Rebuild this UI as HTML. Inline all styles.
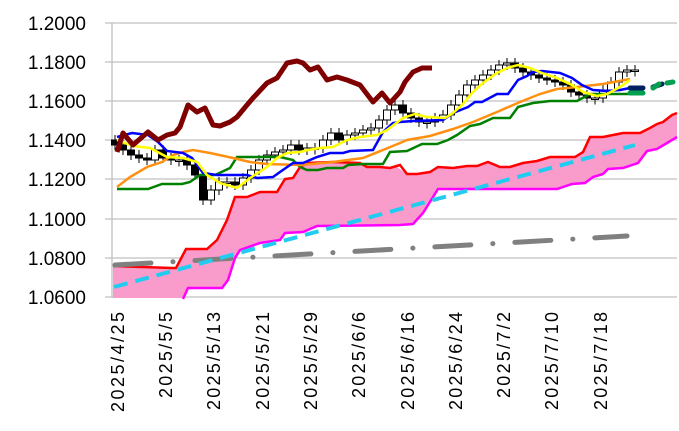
<!DOCTYPE html>
<html><head><meta charset="utf-8"><style>
html,body{margin:0;padding:0;background:#fff;}
svg{display:block;}
text{font-family:"Liberation Sans","Noto Sans CJK JP",sans-serif;fill:#000;}
</style></head><body>
<svg id="s" width="679" height="431" viewBox="0 0 679 431" xmlns="http://www.w3.org/2000/svg">
<g stroke="#c0c0c0" stroke-width="1.3">
<line x1="105" y1="23" x2="677" y2="23"/><line x1="105" y1="62" x2="677" y2="62"/>
<line x1="105" y1="101" x2="677" y2="101"/><line x1="105" y1="140" x2="677" y2="140"/>
<line x1="105" y1="179" x2="677" y2="179"/><line x1="105" y1="219" x2="677" y2="219"/>
<line x1="105" y1="258" x2="677" y2="258"/><line x1="105" y1="297" x2="677" y2="297"/>
<line x1="112" y1="23" x2="112" y2="297"/>
</g>
<g font-size="19" text-anchor="end">
<text x="86" y="30">1.2000</text><text x="86" y="69">1.1800</text><text x="86" y="108">1.1600</text>
<text x="86" y="147">1.1400</text><text x="86" y="186">1.1200</text><text x="86" y="226">1.1000</text>
<text x="86" y="265">1.0800</text><text x="86" y="304">1.0600</text>
</g>
<g font-size="18" text-anchor="end">
<text transform="translate(124,312) rotate(-90)" textLength="100">2025/4/25</text>
<text transform="translate(172,312) rotate(-90)" textLength="86">2025/5/5</text>
<text transform="translate(220,312) rotate(-90)" textLength="98">2025/5/13</text>
<text transform="translate(269,312) rotate(-90)" textLength="98">2025/5/21</text>
<text transform="translate(317,312) rotate(-90)" textLength="98">2025/5/29</text>
<text transform="translate(365,312) rotate(-90)" textLength="86">2025/6/6</text>
<text transform="translate(414,312) rotate(-90)" textLength="98">2025/6/16</text>
<text transform="translate(462,312) rotate(-90)" textLength="98">2025/6/24</text>
<text transform="translate(510,312) rotate(-90)" textLength="86">2025/7/2</text>
<text transform="translate(558,312) rotate(-90)" textLength="98">2025/7/10</text>
<text transform="translate(607,312) rotate(-90)" textLength="98">2025/7/18</text>
</g>
<!-- cloud -->
<polygon fill="#f99ccb" points="113,266 172,268 176,268 186,249 207,249 217,240 227,220 235,197 247,197 260,192 277,192 285,179 293,178 300,167 307,163 333,162 360,163 367,167 380,167 390,168 400,165 397,167 407,174 417,174 430,172 438,167 453,168 467,166 477,166 488,162 500,167 510,167 523,163 537,161 550,157 575,157 583,152 590,137 603,137 623,133 640,133 650,128 657,124 663,122 672,115 677,113 677,137 667,143 657,149 647,151 638,163 623,168 608,169 603,174 593,177 585,183 572,184 557,189 438,189 423,213 413,224 390,225 317,226 303,232 285,233 280,240 260,243 240,250 235,258 228,280 222,288 188,288 183,298 113,298"/>
<polyline fill="none" stroke="#ff0000" stroke-width="2.5" points="113,266 172,268 176,268 186,249 207,249 217,240 227,220 235,197 247,197 260,192 277,192 285,179 293,178 300,167 307,163 333,162 360,163 367,167 380,167 390,168 400,165 407,174 417,174 430,172 438,167 453,168 467,166 477,166 488,162 500,167 510,167 523,163 537,161 550,157 575,157 583,152 590,137 603,137 623,133 640,133 650,128 657,124 663,122 672,115 677,113"/>
<polyline fill="none" stroke="#ff00ff" stroke-width="2.5" points="183,299 188,288 222,288 228,280 235,258 240,250 260,243 280,240 285,233 303,232 317,226 400,225 413,224 423,213 438,189 557,189 572,184 585,183 593,177 603,174 608,169 623,168 638,163 647,151 657,149 667,143 677,137"/>
<line x1="115" y1="265" x2="627" y2="236" stroke="#808080" stroke-width="5" stroke-linecap="round" stroke-dasharray="36,22,0.1,22"/>
<line x1="114" y1="287" x2="635" y2="145" stroke="#22ccf0" stroke-width="4" stroke-dasharray="14,8"/>
<g id="c"></g>
<polyline fill="none" stroke="#008000" stroke-width="2.5" points="117,189 148,189 162,184 182,184 190,182 200,175 215,175 230,168 237,157 280,157 293,160 300,167 307,170 318,170 327,168 343,168 348,165 363,164 383,164 390,152 407,151 422,144 437,144 448,140 457,135 470,126 480,124 493,118 510,118 518,107 533,103 550,101 577,101 590,94 630,94"/>
<polyline fill="none" stroke="#ff9010" stroke-width="2.5" points="117,187 130,177 147,167 162,162 173,155 183,152 193,150 210,153 233,158 250,162 267,164 300,165 333,162 363,158 383,150 400,143 407,140 430,136 453,129 473,122 497,112 520,102 540,94 557,89 577,87 603,84 630,79"/>
<polyline fill="none" stroke="#0000ff" stroke-width="2.5" points="117,137 132,133 148,135 158,142 167,151 183,153 192,158 203,173 217,175 247,175 257,178 273,177 280,172 293,163 303,163 317,157 330,153 343,153 350,151 373,150 383,132 393,123 400,122 413,121 443,120 453,113 468,107 475,102 482,102 497,94 508,94 518,80 527,76 533,72 542,71 560,73 572,78 582,85 593,90 607,91 620,90 630,88"/>
<polyline fill="none" stroke="#ffff00" stroke-width="2.5" points="117,140 133,146 150,148 167,157 183,158 197,162 207,175 220,183 237,188 250,178 267,167 277,158 287,153 300,152 308,150 320,148 333,147 347,140 360,137 377,135 387,130 403,118 415,114 427,117 445,118 453,113 462,105 472,93 483,83 497,73 507,68 518,65 530,68 542,73 557,78 572,85 583,92 597,96 607,94 620,87 630,80"/>
<polyline fill="none" stroke="#7f0000" stroke-width="5" stroke-linejoin="round" points="117,152 123,133 133,145 148,132 158,140 167,135 175,133 180,127 188,105 197,112 205,108 213,125 220,126 230,122 237,117 247,105 253,98 267,83 277,78 287,63 297,61 303,63 310,70 318,67 327,80 337,77 347,80 360,85 373,102 382,93 390,103 400,92 405,82 413,72 422,68 432,68"/>
<line x1="630" y1="88" x2="643" y2="88" stroke="#002060" stroke-width="5" stroke-linecap="round"/>
<line x1="653" y1="87" x2="662" y2="84" stroke="#002060" stroke-width="5" stroke-linecap="round"/>
<line x1="630" y1="93" x2="643" y2="93" stroke="#00a050" stroke-width="5" stroke-linecap="round"/>
<line x1="653" y1="88" x2="659" y2="84" stroke="#00a050" stroke-width="5" stroke-linecap="round"/>
<line x1="667" y1="83" x2="673" y2="82" stroke="#00a050" stroke-width="5" stroke-linecap="round"/>
</svg>
<script>
var cl=[145,150,155,158,160,150,158,160,160,165,175,200,190,182,182,185,178,170,160,155,152,150,145,150,148,148,140,133,140,135,133,130,128,120,110,105,113,118,122,122,118,115,105,95,85,80,75,70,65,63,68,72,75,78,80,82,85,92,95,98,98,90,82,72,70,70];
var g=document.getElementById('c'),h='',o=140;
for(var i=0;i<cl.length;i++){var x=115+i*8,c=cl[i],t=Math.min(o,c),b=Math.max(o,c);if(b-t<1.5)b=t+1.5;
h+='<line x1="'+x+'" y1="'+(t-5)+'" x2="'+x+'" y2="'+(b+5)+'" stroke="#000" stroke-width="1"/>';
h+='<rect x="'+(x-3.5)+'" y="'+t+'" width="7" height="'+(b-t)+'" fill="'+(c>o?'#000':'#fff')+'" stroke="#000" stroke-width="1"/>';o=c;}
g.innerHTML=h;
</script>
</body></html>
